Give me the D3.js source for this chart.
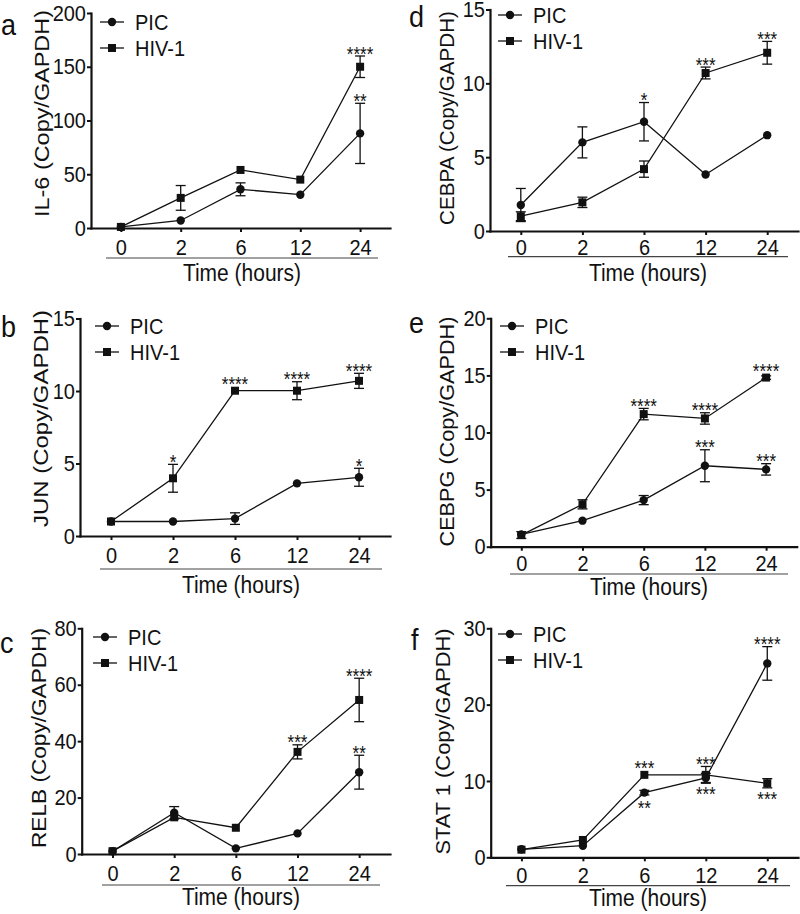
<!DOCTYPE html>
<html>
<head>
<meta charset="utf-8">
<script src="https://cdn.jsdelivr.net/npm/d3@7"></script>
<style>
  html, body { margin: 0; padding: 0; background: #fff; }
  svg { display: block; }
</style>
</head>
<body>
<svg id="chart" width="800" height="914"></svg>
<script>
// ---------------- DATA ----------------
const times = ["0", "2", "6", "12", "24"];
const seriesNames = ["PIC", "HIV-1"];
const xTitle = "Time (hours)";

// a: IL-6
const il6Ticks = [0, 50, 100, 150, 200];
const il6PIC = [1, 7, 36, 31, 88];
const il6PICErr = [0, 0, 6, 0, 28];
const il6HIV = [1, 28, 54, 45, 150];
const il6HIVErr = [0, 11.5, 0, 0, 10];
const il6Stars = [
  { s: "HIV-1", t: "24", txt: "****", pos: "above" },
  { s: "PIC", t: "24", txt: "**", pos: "above" }
];

// b: JUN
const junTicks = [0, 5, 10, 15];
const junPIC = [1.0, 1.0, 1.2, 3.63, 4.05];
const junPICErr = [0, 0, 0.4, 0, 0.62];
const junHIV = [1.0, 3.98, 10.02, 10.02, 10.7];
const junHIVErr = [0, 0.96, 0, 0.62, 0.52];
const junStars = [
  { s: "HIV-1", t: "2", txt: "*", pos: "above" },
  { s: "HIV-1", t: "6", txt: "****", pos: "above" },
  { s: "HIV-1", t: "12", txt: "****", pos: "above" },
  { s: "HIV-1", t: "24", txt: "****", pos: "above" },
  { s: "PIC", t: "24", txt: "*", pos: "above" }
];

// c: RELB
const relbTicks = [0, 20, 40, 60, 80];
const relbPIC = [1, 14.6, 2.0, 7.3, 29];
const relbPICErr = [0, 2.2, 0, 0, 6];
const relbHIV = [1, 13, 9.3, 36.2, 54.6];
const relbHIVErr = [0, 0, 0, 2.5, 7.7];
const relbStars = [
  { s: "HIV-1", t: "12", txt: "***", pos: "above" },
  { s: "HIV-1", t: "24", txt: "****", pos: "above" },
  { s: "PIC", t: "24", txt: "**", pos: "above" }
];

// d: CEBPA
const cebpaTicks = [0, 5, 10, 15];
const cebpaPIC = [1.76, 6.0, 7.4, 3.83, 6.49];
const cebpaPICErr = [1.12, 1.05, 1.3, 0, 0];
const cebpaHIV = [1.0, 1.94, 4.19, 10.7, 12.07];
const cebpaHIVErr = [0.3, 0.35, 0.55, 0.4, 0.77];
const cebpaStars = [
  { s: "PIC", t: "6", txt: "*", pos: "above" },
  { s: "HIV-1", t: "12", txt: "***", pos: "above" },
  { s: "HIV-1", t: "24", txt: "***", pos: "above" }
];

// e: CEBPG
const cebpgTicks = [0, 5, 10, 15, 20];
const cebpgPIC = [1.08, 2.28, 4.08, 7.09, 6.77];
const cebpgPICErr = [0, 0, 0.4, 1.4, 0.5];
const cebpgHIV = [1.02, 3.71, 11.61, 11.23, 14.81];
const cebpgHIVErr = [0.3, 0.4, 0.5, 0.5, 0.15];
const cebpgStars = [
  { s: "HIV-1", t: "6", txt: "****", pos: "above" },
  { s: "HIV-1", t: "12", txt: "****", pos: "above" },
  { s: "HIV-1", t: "24", txt: "****", pos: "above" },
  { s: "PIC", t: "12", txt: "***", pos: "above" },
  { s: "PIC", t: "24", txt: "***", pos: "above" }
];

// f: STAT 1
const stat1Ticks = [0, 10, 20, 30];
const stat1PIC = [1.05, 1.52, 8.47, 10.4, 25.4];
const stat1PICErr = [0, 0, 0.3, 0.6, 2.2];
const stat1HIV = [1.0, 2.27, 10.8, 10.8, 9.7];
const stat1HIVErr = [0, 0, 0, 1.1, 0.6];
const stat1Stars = [
  { s: "HIV-1", t: "6", txt: "***", pos: "above" },
  { s: "PIC", t: "6", txt: "**", pos: "below" },
  { s: "HIV-1", t: "12", txt: "***", pos: "above" },
  { s: "PIC", t: "12", txt: "***", pos: "below" },
  { s: "PIC", t: "24", txt: "****", pos: "above" },
  { s: "HIV-1", t: "24", txt: "***", pos: "below" }
];

// ---------------- PANELS (data + layout) ----------------
const panels = [
  { letter: "a", label: "IL-6 (Copy/GAPDH)", ticks: il6Ticks, pic: il6PIC, picErr: il6PICErr, hiv: il6HIV, hivErr: il6HIVErr, stars: il6Stars,
    L: { x0: 91, x1: 390, yTop: 13, yBot: 228, tickPad: 7, letX: 1, letY: 35, labX: 42, labY: 113.5, labLen: 207, legX: 100, legY: 22, ulY: 258, ulX0: 106, ulX1: 378, tY: 273 } },
  { letter: "b", label: "JUN (Copy/GAPDH)", ticks: junTicks, pic: junPIC, picErr: junPICErr, hiv: junHIV, hivErr: junHIVErr, stars: junStars,
    L: { x0: 80, x1: 390, yTop: 318.5, yBot: 536, tickPad: 7, letX: 1, letY: 337, labX: 41, labY: 418.5, labLen: 217, legX: 95, legY: 326, ulY: 569, ulX0: 100, ulX1: 382, tY: 585 } },
  { letter: "c", label: "RELB (Copy/GAPDH)", ticks: relbTicks, pic: relbPIC, picErr: relbPICErr, hiv: relbHIV, hivErr: relbHIVErr, stars: relbStars,
    L: { x0: 81.7, x1: 390, yTop: 628.3, yBot: 854, tickPad: 7, letX: 0, letY: 653, labX: 39, labY: 738, labLen: 220, legX: 93, legY: 637, ulY: 885, ulX0: 102, ulX1: 380, tY: 897 } },
  { letter: "d", label: "CEBPA (Copy/GAPDH)", ticks: cebpaTicks, pic: cebpaPIC, picErr: cebpaPICErr, hiv: cebpaHIV, hivErr: cebpaHIVErr, stars: cebpaStars,
    L: { x0: 490, x1: 798, yTop: 9.5, yBot: 231, tickPad: 4.5, letX: 409, letY: 27, labX: 446.5, labY: 118, labLen: 214, legX: 498, legY: 15, ulY: 256.7, ulX0: 508, ulX1: 788, tY: 272.5 } },
  { letter: "e", label: "CEBPG (Copy/GAPDH)", ticks: cebpgTicks, pic: cebpgPIC, picErr: cebpgPICErr, hiv: cebpgHIV, hivErr: cebpgHIVErr, stars: cebpgStars,
    L: { x0: 490.7, x1: 796.7, yTop: 318.3, yBot: 546.7, tickPad: 5, letX: 409, letY: 333, labX: 446.7, labY: 431.5, labLen: 230, legX: 500, legY: 326, ulY: 574, ulX0: 510, ulX1: 788, tY: 587 } },
  { letter: "f", label: "STAT 1 (Copy/GAPDH)", ticks: stat1Ticks, pic: stat1PIC, picErr: stat1PICErr, hiv: stat1HIV, hivErr: stat1HIVErr, stars: stat1Stars,
    L: { x0: 490.7, x1: 798, yTop: 628.3, yBot: 857.3, tickPad: 6.5, letX: 411, letY: 650, labX: 443, labY: 741.5, labLen: 226, legX: 498, legY: 634, ulY: 885.7, ulX0: 506, ulX1: 790, tY: 897.5 } }
];

// ---------------- DRAW ----------------
const FONT = "'Liberation Sans', Arial, Helvetica, sans-serif";
const INK = "#111";
const STRETCH = 1.1; // reference glyphs are slightly taller than wide
const svg = d3.select("#chart");

// horizontal text with vertical stretch, anchored at (x, y)
function stext(sel, x, y, txt, size, anchor, dy) {
  return sel.append("text")
    .attr("transform", `translate(${x},${y}) scale(1,${STRETCH})`)
    .attr("dy", dy || 0)
    .attr("text-anchor", anchor || "start")
    .attr("fill", INK)
    .style("font-family", FONT).style("font-size", size + "px")
    .text(txt);
}

function marker(sel, name, cx, cy) {
  if (name === "PIC") {
    sel.append("circle").attr("cx", cx).attr("cy", cy).attr("r", 4.2).attr("fill", INK);
  } else {
    sel.append("rect").attr("x", cx - 4).attr("y", cy - 4).attr("width", 8).attr("height", 8).attr("fill", INK);
  }
}

panels.forEach(p => {
  const L = p.L;
  const g = svg.append("g");
  const x = d3.scalePoint().domain(times).range([L.x0, L.x1]).padding(0.5);
  const y = d3.scaleLinear().domain([0, p.ticks[p.ticks.length - 1]]).range([L.yBot, L.yTop]);

  // axes
  const ya = g.append("g").attr("transform", `translate(${L.x0},0)`)
    .call(d3.axisLeft(y).tickValues(p.ticks).tickSize(4).tickPadding(1).tickSizeOuter(0).tickFormat(d3.format("d")));
  const xa = g.append("g").attr("transform", `translate(0,${L.yBot})`)
    .call(d3.axisBottom(x).tickSize(4).tickPadding(L.tickPad).tickSizeOuter(0));
  [ya, xa].forEach(a => {
    a.select(".domain").attr("stroke", INK).attr("stroke-width", 2.2).attr("stroke-linecap", "square");
    a.selectAll(".tick line").attr("stroke", INK).attr("stroke-width", 2);
    a.selectAll(".tick text").attr("fill", INK).style("font-family", FONT).style("font-size", "20px")
      .each(function () {
        const t = d3.select(this);
        const tx = +t.attr("x") || 0, ty = +t.attr("y") || 0;
        t.attr("x", null).attr("y", null)
          .attr("transform", `translate(${tx},${ty}) scale(1,${STRETCH})`);
      });
  });

  // underline + x title
  g.append("line").attr("x1", L.ulX0).attr("x2", L.ulX1).attr("y1", L.ulY).attr("y2", L.ulY)
    .attr("stroke", "#444").attr("stroke-width", 1.2);
  stext(g, (L.ulX0 + L.ulX1) / 2, L.tY, xTitle, 21, "middle", "0.35em");

  // y title
  g.append("text").attr("transform", `translate(${L.labX},${L.labY}) rotate(-90)`).attr("dy", "0.35em")
    .attr("text-anchor", "middle").attr("fill", INK)
    .attr("textLength", L.labLen).attr("lengthAdjust", "spacingAndGlyphs")
    .style("font-family", FONT).style("font-size", "21px").text(p.label);

  // panel letter
  stext(g, L.letX, L.letY, p.letter, 27, "start", 0);

  // series
  const series = [
    { name: "PIC", vals: p.pic, errs: p.picErr },
    { name: "HIV-1", vals: p.hiv, errs: p.hivErr }
  ];
  const line = d3.line().x(d => x(d.t)).y(d => y(d.v));
  series.forEach(s => {
    const pts = times.map((t, i) => ({ t, v: s.vals[i], e: s.errs[i] }));
    g.append("path").datum(pts).attr("d", line).attr("fill", "none").attr("stroke", INK).attr("stroke-width", 1.3);
    pts.filter(d => d.e > 0).forEach(d => {
      const cx = x(d.t), y1 = y(d.v + d.e), y2 = y(d.v - d.e);
      g.append("line").attr("x1", cx).attr("x2", cx).attr("y1", y1).attr("y2", y2).attr("stroke", INK).attr("stroke-width", 1.3);
      [y1, y2].forEach(yy => g.append("line").attr("x1", cx - 5).attr("x2", cx + 5).attr("y1", yy).attr("y2", yy).attr("stroke", INK).attr("stroke-width", 1.3));
    });
  });
  series.forEach(s => {
    times.forEach((t, i) => marker(g, s.name, x(t), y(s.vals[i])));
  });

  // significance stars
  p.stars.forEach(st => {
    const s = series.find(q => q.name === st.s);
    const i = times.indexOf(st.t);
    const v = s.vals[i], e = s.errs[i];
    let cy;
    if (st.pos === "above") cy = Math.min(y(v + e), y(v) - 4) - 6;
    else cy = Math.max(y(v - e), y(v) + 4) + 8;
    g.append("text")
      .attr("transform", `translate(${x(st.t)},${cy + 10.5}) scale(1,1.2)`)
      .attr("text-anchor", "middle").attr("fill", INK)
      .style("font-family", FONT).style("font-size", "17px").text(st.txt);
  });

  // legend
  seriesNames.forEach((name, k) => {
    const ly = L.legY + k * 26;
    g.append("line").attr("x1", L.legX).attr("x2", L.legX + 24).attr("y1", ly).attr("y2", ly).attr("stroke", INK).attr("stroke-width", 1.3);
    marker(g, name, L.legX + 12, ly);
    stext(g, L.legX + 35, ly, name, 20, "start", "0.35em");
  });
});
</script>
</body>
</html>
